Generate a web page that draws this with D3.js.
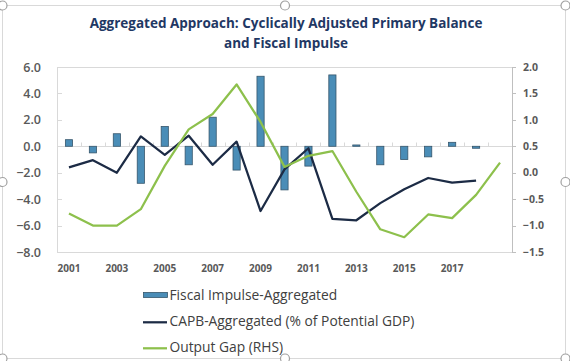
<!DOCTYPE html>
<html><head><meta charset="utf-8">
<script src="https://cdn.jsdelivr.net/npm/d3@7"></script>
<style>body{margin:0;background:#fff}svg{display:block}</style>
</head><body><svg id="c" width="570" height="361"></svg>
<script>
const years = [2001,2002,2003,2004,2005,2006,2007,2008,2009,2010,2011,2012,2013,2014,2015,2016,2017,2018,2019];
const fiscalImpulse = [0.5,-0.5,0.95,-2.8,1.5,-1.4,2.2,-1.8,5.3,-3.3,-1.5,5.4,0.1,-1.4,-1.0,-0.8,0.3,-0.15,null];
const capb = [-1.6,-1.05,-2.0,0.75,-0.65,0.8,-1.4,0.35,-4.9,-1.75,-0.15,-5.5,-5.6,-4.3,-3.25,-2.4,-2.75,-2.6,null];
const outputGap = [-0.77,-1.0,-1.0,-0.69,0.13,0.82,1.11,1.67,0.96,0.11,0.32,0.41,-0.36,-1.07,-1.22,-0.79,-0.86,-0.42,0.19];
const leftTicks = [6,4,2,0,-2,-4,-6,-8];
const rightTicks = [2,1.5,1,0.5,0,-0.5,-1,-1.5];
const xTickLabels = ["2001","2003","2005","2007","2009","2011","2013","2015","2017"];
const seriesNames = ["Fiscal Impulse-Aggregated","CAPB-Aggregated (% of Potential GDP)","Output Gap (RHS)"];
const titleLines = ["Aggregated Approach: Cyclically Adjusted Primary Balance","and Fiscal Impulse"];

const svg = d3.select("#c");
const L = 57, R = 512, T = 67, B = 252;
const colBar = "#4a8db7", colBarStroke = "#36566c", colNavy = "#1c2b45", colGreen = "#8dc04c";
const FONT = "'Open Sans', sans-serif";

// chart frame
svg.append("rect").attr("x",2.5).attr("y",5.5).attr("width",563).attr("height",353)
  .attr("fill","#fff").attr("stroke","#d9d9d9");

// title
svg.append("g").selectAll("text").data(titleLines).join("text")
  .attr("x",286).attr("y",(d,i)=>27.5+i*20.5)
  .attr("text-anchor","middle").attr("font-family",FONT).attr("font-weight",700)
  .attr("font-size",13.5).attr("fill","#1f3864").text(d=>d);

const x = d3.scaleBand().domain(years).range([L,R]).padding(0);
const yL = d3.scaleLinear().domain([-8,6]).range([B,T]);
const yR = d3.scaleLinear().domain([-1.5,2]).range([B,T]);
const cx = d => x(d) + x.bandwidth()/2;

// plot border
svg.append("rect").attr("x",L+0.5).attr("y",T+0.5).attr("width",R-L).attr("height",B-T)
  .attr("fill","none").attr("stroke","#d9d9d9");

// left axis inner ticks
svg.append("g").selectAll("line").data(leftTicks).join("line")
  .attr("x1",L).attr("x2",L+5).attr("y1",d=>Math.round(yL(d))+0.5).attr("y2",d=>Math.round(yL(d))+0.5)
  .attr("stroke","#d9d9d9");

// left tick labels
svg.append("g").selectAll("text").data(leftTicks).join("text")
  .attr("x",41).attr("y",d=>yL(d)).attr("dy","0.36em").attr("text-anchor","end")
  .attr("font-family",FONT).attr("font-weight",600).attr("font-size",12.5).attr("fill","#595959")
  .text(d=>d3.format(".1f")(d));

// zero line with category ticks
const y0 = Math.round(yL(0))+0.5;
svg.append("line").attr("x1",L).attr("x2",R).attr("y1",y0).attr("y2",y0).attr("stroke","#d9d9d9");
svg.append("g").selectAll("line").data(years.slice(1)).join("line")
  .attr("x1",d=>Math.round(x(d))+0.5).attr("x2",d=>Math.round(x(d))+0.5)
  .attr("y1",y0-4).attr("y2",y0).attr("stroke","#d9d9d9");

// bars
const bw = x.bandwidth()*0.3;
svg.append("g").selectAll("rect").data(years.map((y,i)=>({y,v:fiscalImpulse[i]})).filter(d=>d.v!==null)).join("rect")
  .attr("x",d=>cx(d.y)-bw/2).attr("width",bw)
  .attr("y",d=>Math.min(yL(d.v),yL(0))).attr("height",d=>Math.abs(yL(d.v)-yL(0)))
  .attr("fill",colBar).attr("stroke",colBarStroke).attr("stroke-width",0.8);

// lines
const lineL = d3.line().defined(d=>d.v!==null).x(d=>cx(d.y)).y(d=>yL(d.v));
const lineR = d3.line().defined(d=>d.v!==null).x(d=>cx(d.y)).y(d=>yR(d.v));
svg.append("path").datum(years.map((y,i)=>({y,v:capb[i]})))
  .attr("d",lineL).attr("fill","none").attr("stroke",colNavy).attr("stroke-width",2.25).attr("stroke-linejoin","round");
svg.append("path").datum(years.map((y,i)=>({y,v:outputGap[i]})))
  .attr("d",lineR).attr("fill","none").attr("stroke",colGreen).attr("stroke-width",2.25).attr("stroke-linejoin","round");

// right axis
svg.append("line").attr("x1",R+0.5).attr("x2",R+0.5).attr("y1",T).attr("y2",B+1).attr("stroke","#bfbfbf");
svg.append("g").selectAll("line").data(rightTicks).join("line")
  .attr("x1",R).attr("x2",R+4).attr("y1",d=>Math.round(yR(d))+0.5).attr("y2",d=>Math.round(yR(d))+0.5)
  .attr("stroke","#bfbfbf");
svg.append("g").selectAll("text").data(rightTicks).join("text")
  .attr("x",523).attr("y",d=>yR(d)).attr("dy","0.36em").attr("text-anchor","start")
  .attr("font-family",FONT).attr("font-weight",700).attr("font-size",10.5).attr("fill","#595959")
  .text(d=>d3.format(".1f")(d));

// x labels
svg.append("g").selectAll("text").data(xTickLabels).join("text")
  .attr("x",d=>cx(+d)).attr("y",272).attr("text-anchor","middle")
  .attr("font-family",FONT).attr("font-weight",700).attr("font-size",10).attr("fill","#595959")
  .text(d=>d);

// legend
const lg = svg.append("g");
const rows = [299.5,325.5,351.5];
lg.append("rect").attr("x",143.5).attr("y",292.5).attr("width",24).attr("height",5)
  .attr("fill",colBar).attr("stroke",colBarStroke).attr("stroke-width",0.8);
lg.append("line").attr("x1",143).attr("x2",167).attr("y1",322.3).attr("y2",322.3).attr("stroke",colNavy).attr("stroke-width",2.25);
lg.append("line").attr("x1",143).attr("x2",167).attr("y1",348.3).attr("y2",348.3).attr("stroke",colGreen).attr("stroke-width",2.25);
lg.selectAll("text").data(seriesNames).join("text")
  .attr("x",169.5).attr("y",(d,i)=>rows[i])
  .attr("font-family",FONT).attr("font-size",13.8).attr("fill","#404040").text(d=>d);

// selection handles
const handles = [[2.5,5.5],[285,5.5],[565.5,5.5],[2.5,182],[565.5,182],[2.5,358.5],[285,358.5],[565.5,358.5]];
svg.append("g").selectAll("circle").data(handles).join("circle")
  .attr("cx",d=>d[0]).attr("cy",d=>d[1]).attr("r",4.5)
  .attr("fill","#fff").attr("stroke","#a0a0a0").attr("stroke-width",1.2);
</script></body></html>
